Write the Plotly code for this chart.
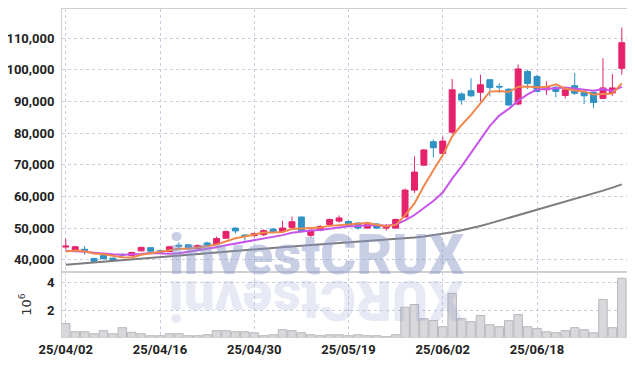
import plotly.graph_objects as go
from plotly.subplots import make_subplots

dates = ["25/04/02","25/04/03","25/04/04","25/04/07","25/04/08","25/04/09","25/04/10","25/04/11",
         "25/04/14","25/04/15","25/04/16","25/04/17","25/04/18","25/04/21","25/04/22","25/04/23",
         "25/04/24","25/04/25","25/04/28","25/04/29","25/04/30","25/05/02","25/05/07","25/05/08",
         "25/05/09","25/05/12","25/05/13","25/05/14","25/05/15","25/05/16","25/05/19","25/05/20",
         "25/05/21","25/05/22","25/05/23","25/05/26","25/05/27","25/05/28","25/05/29","25/05/30",
         "25/06/02","25/06/04","25/06/05","25/06/09","25/06/10","25/06/11","25/06/12","25/06/13",
         "25/06/16","25/06/17","25/06/18","25/06/19","25/06/20","25/06/23","25/06/24","25/06/25",
         "25/06/26","25/06/27","25/06/30","25/07/01"]

opens = [44000,42900,43300,40400,41300,40500,41600,41300,42800,43800,42800,42600,44600,44700,43500,45300,
         45000,46800,50000,47800,47600,47900,49700,48900,50200,53500,47700,49300,51100,52200,52100,51600,
         50000,51300,50000,50000,53500,62000,69900,77300,73600,80300,92400,93400,92900,96900,94800,93900,
         89200,99500,97900,93700,94500,91900,95000,92900,92900,91000,92700,100500]
highs = [46600,44400,44300,40500,41600,40700,42100,42500,44100,44000,43200,44400,45500,45000,44900,45700,
         47300,49300,50200,48000,48600,49600,49900,52300,53600,53600,49600,51000,53000,54000,52400,51800,
         52000,51500,51300,53000,62500,72700,75000,78000,78900,97100,92900,97400,98500,97000,95800,94200,
         101700,100000,98500,96400,95000,94000,99000,93100,93100,103700,98700,113400]
lows = [43300,42600,41600,39000,40100,39500,40900,41200,42700,42600,42000,42400,43600,43700,43000,44400,
        44800,46600,48300,46000,47100,47500,48600,48500,50000,48600,47100,49000,50800,51700,50300,49500,
        49800,49700,49200,49800,53200,61100,69700,72300,73300,79800,89000,91500,90000,91600,92700,88700,
        88800,93900,92900,92100,91300,91000,92100,89200,87900,90800,91800,98500]
closes = [44300,44100,42900,39500,40300,39800,41500,42300,43900,42700,42200,44100,44300,43900,44500,44600,
          46700,48900,49100,47500,48300,49200,48900,50000,52000,49000,49300,50500,52700,53200,50600,50000,
          51600,50000,50800,52700,62000,67700,74700,75400,77500,93700,90500,91800,95300,94400,94600,88900,
          100300,95700,93200,94700,93200,93700,92600,91800,89700,94300,94300,108600]

volume_m = [1.10,0.52,0.52,0.38,0.60,0.38,0.81,0.48,0.38,0.24,0.24,0.38,0.38,0.24,0.24,0.31,0.60,0.60,
            0.52,0.52,0.45,0.24,0.31,0.67,0.60,0.45,0.31,0.24,0.31,0.31,0.24,0.31,0.24,0.24,0.17,0.31,
            2.26,2.45,1.45,1.31,0.88,3.24,1.45,1.24,1.67,1.02,0.88,1.31,1.74,0.88,0.74,0.52,0.45,0.60,
            0.81,0.67,0.45,2.81,0.81,4.31]

ma5 = [42600,42900,42700,42000,41700,41320,40800,40680,41560,42040,42520,43040,43440,43440,43800,44280,
       44800,45720,46760,47360,48100,48600,48600,48780,49680,49820,49840,50160,50700,50940,51260,51400,
       51620,51080,50600,51020,54000,57800,63300,68300,73000,79000,82600,85800,89500,93140,93320,93000,
       94700,94780,94540,94560,95420,94100,93480,93200,92200,92420,92540,95740]
ma10 = [42800,42700,42500,42200,41900,41700,41600,41600,41800,42130,41920,41920,42060,42500,42920,43400,
        43920,44580,45100,45580,46190,46700,47160,47770,48520,48960,49220,49380,49740,50310,50540,50620,
        50890,50890,50770,51140,52410,54130,56330,58550,61240,65610,69500,73680,78130,82300,85560,87680,
        90240,92270,93840,93940,94210,94400,94130,93870,93380,93920,93320,94610]
ma60 = [38400,38650,38900,39150,39400,39650,39900,40150,40400,40650,40900,41150,41400,41650,41900,42150,
        42400,42650,42900,43150,43400,43600,43800,44000,44200,44400,44600,44800,45000,45200,45400,45600,
        45800,46000,46200,46450,46700,47000,47350,47750,48200,48700,49300,49950,50650,51500,52350,53200,
        54050,54900,55750,56600,57450,58300,59150,60000,60900,61850,62800,63800]

tick_dates = ["25/04/02","25/04/16","25/04/30","25/05/19","25/06/02","25/06/18"]
price_ticks = [40000,50000,60000,70000,80000,90000,100000,110000]
vol_ticks = [2, 4]

UP = "#E5226B"
DOWN = "#2E92C4"
GRID = "rgb(200,206,222)"
AXL = "rgb(208,208,212)"
TFONT = dict(family="Roboto, sans-serif", size=13, color="#222", weight=700)

fig = make_subplots(rows=2, cols=1, shared_xaxes=True, vertical_spacing=0)

fig.add_trace(go.Bar(x=dates, y=volume_m,
                     marker=dict(color="rgb(216,216,219)", line=dict(color="rgb(183,183,189)", width=1)),
                     hoverinfo="skip"), row=2, col=1)

fig.add_trace(go.Candlestick(x=dates, open=opens, high=highs, low=lows, close=closes,
                             increasing=dict(line=dict(color=UP, width=1), fillcolor=UP),
                             decreasing=dict(line=dict(color=DOWN, width=1), fillcolor=DOWN),
                             whiskerwidth=0), row=1, col=1)

fig.add_trace(go.Scatter(x=dates, y=ma60, mode="lines", line=dict(color="rgb(125,125,128)", width=2)), row=1, col=1)
fig.add_trace(go.Scatter(x=dates, y=ma10, mode="lines", line=dict(color="rgb(200,85,235)", width=2)), row=1, col=1)
fig.add_trace(go.Scatter(x=dates, y=ma5, mode="lines", line=dict(color="rgb(240,135,75)", width=2)), row=1, col=1)

xcommon = dict(type="category", range=[-0.4, 59.55], tickvals=tick_dates, ticktext=tick_dates,
               showgrid=True, gridcolor=GRID, griddash="dot", gridwidth=1,
               showline=True, mirror=True, linecolor=AXL, linewidth=1, ticks="",
               fixedrange=True, automargin=False)

# page body keeps its default 8px margin, so the figure is sized/offset to compensate
fig.update_layout(
    width=627, height=358,
    margin=dict(l=54, r=8, t=1, b=29),
    paper_bgcolor="white", plot_bgcolor="white",
    showlegend=False, boxgap=0.1, boxgroupgap=0.3, bargap=0.1,
    xaxis=dict(**xcommon, showticklabels=False, rangeslider=dict(visible=False)),
    xaxis2=dict(**xcommon, showticklabels=True, tickfont=TFONT),
    yaxis=dict(domain=[0.198, 1], range=[36100, 119250], tickvals=price_ticks, tickformat=",d",
               showgrid=True, gridcolor=GRID, griddash="dot", zeroline=False, automargin=False,
               showline=True, mirror=True, linecolor=AXL, tickfont=TFONT, ticklabelstandoff=4),
    yaxis2=dict(domain=[0, 0.198], range=[0.15, 4.75], tickvals=vol_ticks,
                showgrid=True, gridcolor=GRID, griddash="dot", zeroline=False, automargin=False,
                showline=True, mirror=True, linecolor=AXL, tickfont=TFONT, ticklabelstandoff=4,
                title=dict(text="10<sup>6</sup>", font=dict(family="DejaVu Sans", size=13, color="#333"),
                           standoff=12)),
)

fig.add_annotation(text="investCRUX", xref="paper", yref="paper", x=0.45, y=0.25,
                   xanchor="center", yanchor="middle", showarrow=False,
                   font=dict(family="Roboto", size=55, weight=900, color="rgba(135,150,198,0.46)"))
fig.add_annotation(text="XURCtsevni", xref="paper", yref="paper", x=0.45, y=0.115,
                   xanchor="center", yanchor="middle", showarrow=False, textangle=180,
                   font=dict(family="Roboto", size=55, weight=900, color="rgba(135,150,198,0.20)"))

fig.write_html("out.html")
